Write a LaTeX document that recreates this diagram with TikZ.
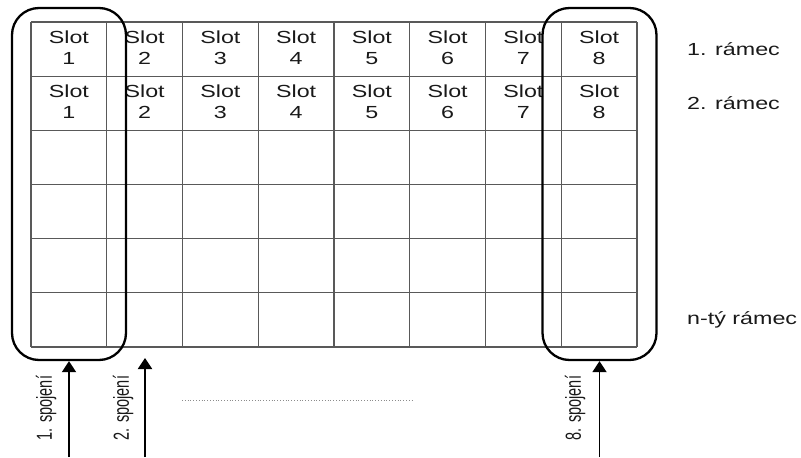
\documentclass[tikz,border=0pt]{standalone}
\usepackage{fontspec}
\usepackage{graphicx}
\setmainfont{Liberation Sans}[FakeStretch=1.33]
\newfontfamily\rotfont{Liberation Sans}
\usetikzlibrary{arrows.meta}
\tikzset{
  gridline/.style={draw=black!65, line width=1.1pt},
  cellbox/.style={align=center, font=\fontsize{17.5}{21}\selectfont, text=black!90, inner sep=0pt},
  grp/.style={draw=black, line width=2.3pt, rounded corners=27pt, minimum width=114pt, minimum height=352pt, inner sep=0pt},
  conn/.style={draw=black, line width=1.9pt, -{Triangle[width=14pt,length=11pt]}},
  rowlabel/.style={anchor=west, font=\fontsize{17.5}{21}\selectfont, text=black!90, inner sep=0pt},
  connlabel/.style={rotate=90, font=\rotfont\fontsize{14.5}{17}\selectfont, text=black!90, inner sep=0pt},
}
\begin{document}
\begin{tikzpicture}[x=1pt, y=-1pt]
\useasboundingbox (0,0) rectangle (801,458);
% grid
\foreach \i in {0,...,8} {
  \draw[gridline] ({31+\i*75.75},22) -- ({31+\i*75.75},347);
}
\foreach \j in {0,...,6} {
  \draw[gridline] (31,{22+\j*54.17}) -- (637,{22+\j*54.17});
}
% cell texts
\foreach \i in {1,...,8} {
  \node[cellbox] (r1c\i) at ({31+(\i-0.5)*75.75},47.5) {Slot\\\i};
  \node[cellbox] (r2c\i) at ({31+(\i-0.5)*75.75},101.7) {Slot\\\i};
}
% row labels
\node[rowlabel] (l1) at (687,49) {1. rámec};
\node[rowlabel] (l2) at (687,103) {2. rámec};
\node[rowlabel] (ln) at (687,320) {n-tý rámec};
% groups
\node[grp] (g1) at (69,184) {};
\node[grp] (g8) at (599.5,184) {};
% connectors
\coordinate (a1) at (69,457);
\coordinate (a8) at (599.5,457);
\coordinate (a2) at (145,457);
\coordinate (t2) at (145,358);
\draw[conn] (a1) -- (g1.south);
\draw[conn] (a2) -- (t2);
\draw[conn] (a8) -- (g8.south);
% connector labels
\node[connlabel] (s1) at (46,408) {\scalebox{1}[1.5]{1. spojení}};
\node[connlabel] (s2) at (123,408) {\scalebox{1}[1.5]{2. spojení}};
\node[connlabel] (s8) at (575,408) {\scalebox{1}[1.5]{8. spojení}};
% dotted line
\coordinate (d1) at (182,400);
\coordinate (d2) at (412,400);
\draw[black!45, line width=0.8pt, dotted] (d1) -- (d2);
\end{tikzpicture}
\end{document}
